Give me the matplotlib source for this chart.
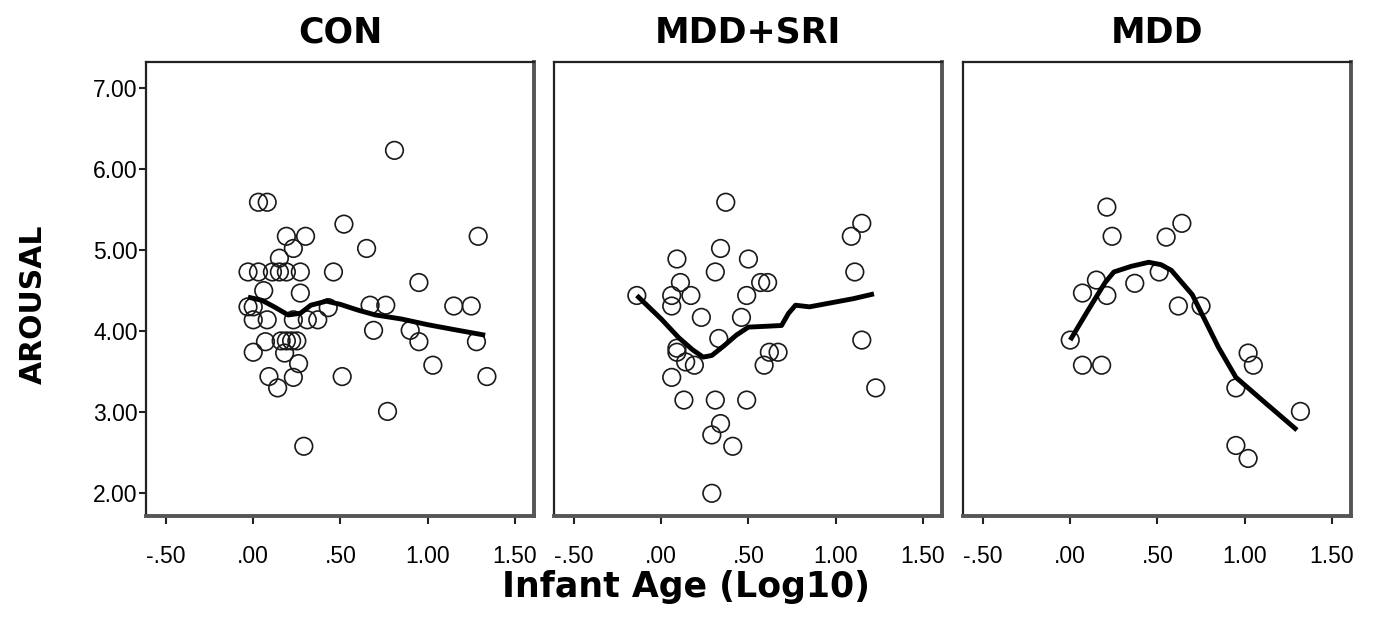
import matplotlib
matplotlib.use("Agg")
import matplotlib.pyplot as plt

plt.rcParams['font.family'] = ['Liberation Sans', 'DejaVu Sans']

panel_titles = ["CON", "MDD+SRI", "MDD"]

con_x = [0.03, 0.08, 0.19, 0.30, 0.23, 0.15,
         -0.03, 0.03, 0.11, 0.15, 0.19, 0.27, 0.46, 0.27, 0.52, 0.81, 0.65, 1.29,
         0.95, 0.67, 0.76, 1.15, 1.25, 0.43, 0.69, 0.90, 0.95, 1.28, 1.03, 0.51,
         1.34, 0.77, 0.29, 0.09, 0.14, 0.23, 0.26, 0.00, 0.07, 0.18, 0.16, 0.19,
         0.22, 0.25, 0.00, 0.08, 0.23, 0.31, 0.37, -0.03, 0.00, 0.06]
con_y = [5.59, 5.59, 5.17, 5.17, 5.02, 4.90,
         4.73, 4.73, 4.73, 4.73, 4.73, 4.73, 4.73, 4.47, 5.32, 6.23, 5.02, 5.17,
         4.60, 4.32, 4.32, 4.31, 4.31, 4.29, 4.01, 4.01, 3.87, 3.87, 3.58, 3.44,
         3.44, 3.01, 2.58, 3.44, 3.30, 3.43, 3.60, 3.74, 3.87, 3.73, 3.88, 3.88,
         3.88, 3.88, 4.14, 4.14, 4.14, 4.14, 4.14, 4.30, 4.30, 4.50]
con_fit_x = [-0.03, 0.05, 0.12, 0.20, 0.27, 0.33, 0.42, 0.50, 0.60, 0.70, 0.85, 1.00, 1.15, 1.33]
con_fit_y = [4.42, 4.38, 4.30, 4.20, 4.22, 4.32, 4.37, 4.33, 4.26, 4.20, 4.15, 4.08, 4.02, 3.95]

sri_x = [0.37, 0.34, 0.09, 0.31, 0.50, 0.11, -0.14, 0.06, 0.17, 0.06, 0.23, 0.49,
         0.46, 0.33, 0.09, 0.09, 0.14, 0.19, 0.06, 0.13, 0.31, 0.49, 0.34, 0.29,
         0.41, 0.29, 0.57, 0.61, 1.15, 1.09, 1.11, 1.15, 1.23, 0.62, 0.67, 0.59]
sri_y = [5.59, 5.02, 4.89, 4.73, 4.89, 4.60, 4.44, 4.44, 4.44, 4.31, 4.17, 4.44,
         4.17, 3.91, 3.79, 3.74, 3.62, 3.58, 3.43, 3.15, 3.15, 3.15, 2.86, 2.72,
         2.58, 2.00, 4.60, 4.60, 5.33, 5.17, 4.73, 3.89, 3.30, 3.74, 3.74, 3.58]
sri_fit_x = [-0.14, 0.00, 0.10, 0.18, 0.24, 0.29, 0.36, 0.43, 0.50, 0.60, 0.69, 0.73, 0.77, 0.85, 1.00, 1.10, 1.22]
sri_fit_y = [4.44, 4.15, 3.92, 3.77, 3.68, 3.70, 3.82, 3.95, 4.05, 4.06, 4.07, 4.22, 4.32, 4.30, 4.36, 4.40, 4.46]

mdd_x = [0.21, 0.24, 0.07, 0.15, 0.21, 0.37, 0.00, 0.64, 0.55, 0.51, 0.62, 0.75,
         1.02, 1.05, 0.95, 1.32, 0.95, 1.02, 0.07, 0.18]
mdd_y = [5.53, 5.17, 4.47, 4.63, 4.44, 4.59, 3.89, 5.33, 5.16, 4.73, 4.31, 4.31,
         3.73, 3.58, 3.30, 3.01, 2.59, 2.43, 3.58, 3.58]
mdd_fit_x = [0.00, 0.10, 0.20, 0.25, 0.35, 0.45, 0.52, 0.58, 0.70, 0.85, 0.95, 1.10, 1.30]
mdd_fit_y = [3.89, 4.25, 4.60, 4.73, 4.80, 4.85, 4.82, 4.75, 4.45, 3.80, 3.43, 3.15, 2.78]

x_ticks = [-0.5, 0.0, 0.5, 1.0, 1.5]
x_tick_labels = ["-.50", ".00", ".50", "1.00", "1.50"]
y_ticks = [2, 3, 4, 5, 6, 7]
y_tick_labels = ["2.00", "3.00", "4.00", "5.00", "6.00", "7.00"]

panels = [(con_x, con_y, con_fit_x, con_fit_y),
          (sri_x, sri_y, sri_fit_x, sri_fit_y),
          (mdd_x, mdd_y, mdd_fit_x, mdd_fit_y)]

W, H = 1376, 637
fig = plt.figure(figsize=(W / 100, H / 100), dpi=100)
lefts_px = [146, 554, 963]
width_px = 388
top_px, bottom_px = 62, 516
bold_font = ['DejaVu Sans']

for i, (title, (px, py, fx, fy)) in enumerate(zip(panel_titles, panels)):
    ax = fig.add_axes([lefts_px[i] / W, 1 - bottom_px / H, width_px / W, (bottom_px - top_px) / H])
    ax.scatter(px, py, s=160, facecolors='none', edgecolors='#1a1a1a', linewidths=1.2, zorder=3)
    ax.plot(fx, fy, color='black', lw=3.5, zorder=4, solid_capstyle='butt')
    ax.set_xlim(-0.615, 1.61)
    ax.set_ylim(1.72, 7.32)
    ax.set_xticks(x_ticks)
    ax.set_xticklabels(x_tick_labels, fontsize=16.5)
    ax.tick_params(axis='x', direction='out', length=6, width=1.5, pad=15, color='#222')
    if i == 0:
        ax.set_yticks(y_ticks)
        ax.set_yticklabels(y_tick_labels, fontsize=16.5)
        ax.tick_params(axis='y', direction='out', length=5, width=1.5, pad=1, color='#222')
    else:
        ax.set_yticks([])
    for side in ['left', 'top']:
        ax.spines[side].set_color('#222')
        ax.spines[side].set_linewidth(1.6)
    for side in ['right', 'bottom']:
        ax.spines[side].set_color('#555')
        ax.spines[side].set_linewidth(2.8)
    ax.set_title(title, fontsize=25, fontweight='bold', pad=14, family=bold_font)

fig.text(686 / W, 1 - 587 / H, "Infant Age (Log10)", ha='center', va='center', fontsize=25,
         fontweight='bold', family=bold_font)
fig.text(0.024, 1 - 304 / H, "AROUSAL", ha='center', va='center', rotation=90, fontsize=21.5,
         fontweight='bold', family=bold_font)

fig.savefig("out.png", dpi=100)
